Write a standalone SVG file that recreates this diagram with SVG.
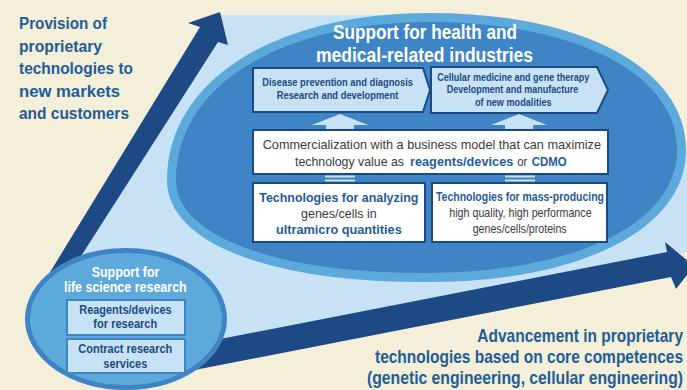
<svg xmlns="http://www.w3.org/2000/svg" width="687" height="390" viewBox="0 0 687 390">
<defs>
<style>
text{font-family:"Liberation Sans",Arial,sans-serif}
.lbl{font-size:17px;font-weight:bold;fill:#1F5C99}
.lbl2{font-size:18px;font-weight:bold;fill:#1F5C99;text-anchor:end}
.ttl{font-size:20px;font-weight:bold;fill:#FFFFFF}
.pt{font-size:10.5px;font-weight:bold;fill:#1D4A84}
.cm{font-size:13px;fill:#3A3A3A}
.bx{font-size:13px;fill:#3A3A3A}
.bb{font-weight:bold;fill:#1F5C99}
.st{font-size:14px;font-weight:bold;fill:#FFFFFF}
.sb{font-size:12.5px;font-weight:bold;fill:#1D4A84}
.pent{fill:#C6E2F4;stroke:#1D4A84;stroke-width:2}
.wbox{fill:#FFFFFF;stroke:#1D4A84;stroke-width:2}
.sbox{fill:#C6E2F4;stroke:#3F84C5;stroke-width:2}
.big{fill:#1D4A84}
.conn{fill:#C6E2F4}
</style>
</defs>
<rect width="687" height="390" fill="#F4EFD8"/>
<polygon id="fan" points="221,15 440,15 687,150 687,252 100,365 74,250" fill="#C6E2F4"/>
<g id="axes">
<polygon class="big" points="33,300 200,27 188,23 220,12 228,45 218,42 53,300"/>
<polygon class="big" points="110,360.5 667,252 665,242 694,266 676,289 671,277 110,386.5"/>
</g>
<g id="health">
<path d="M171.5,180 C171.5,84 276,17.5 430,17.5 C581,17.5 681.5,72 681.5,150 C681.5,226 579,277.5 425,277.5 C273,277.5 171.5,240 171.5,180 Z" fill="#3F84C5" stroke="#5EA9DC" stroke-width="9"/>
<text class="ttl" x="333" y="39" textLength="184" lengthAdjust="spacingAndGlyphs">Support for health and</text>
<text class="ttl" x="316" y="61.7" textLength="217" lengthAdjust="spacingAndGlyphs">medical-related industries</text>
</g>
<g id="connectors">
<polygon class="conn" points="340,114 368,125 354,125 354,131 326,131 326,125 312,125"/>
<polygon class="conn" points="519,114 547,125 533,125 533,131 505,131 505,125 491,125"/>
<rect class="conn" x="325" y="175.5" width="30" height="2"/>
<rect class="conn" x="325" y="179.5" width="30" height="2"/>
<rect class="conn" x="505" y="175.5" width="30" height="2"/>
<rect class="conn" x="505" y="179.5" width="30" height="2"/>
</g>
<g id="disease">
<polygon class="pent" points="253,68 423,68 430,90 423,112 253,112"/>
<text class="pt" x="262.3" y="86" textLength="150.7" lengthAdjust="spacingAndGlyphs">Disease prevention and diagnosis</text>
<text class="pt" x="276.7" y="99.3" textLength="121.7" lengthAdjust="spacingAndGlyphs">Research and development</text>
</g>
<g id="cellular">
<polygon class="pent" points="431,67 597,67 608,90 597,113 431,113"/>
<text class="pt" x="437.3" y="80.7" textLength="152" lengthAdjust="spacingAndGlyphs">Cellular medicine and gene therapy</text>
<text class="pt" x="446.7" y="93.3" textLength="131.6" lengthAdjust="spacingAndGlyphs">Development and manufacture</text>
<text class="pt" x="475" y="106" textLength="76.7" lengthAdjust="spacingAndGlyphs">of new modalities</text>
</g>
<g id="commercialization">
<rect class="wbox" x="253" y="130" width="355" height="44"/>
<text class="cm" x="262.7" y="149" textLength="338.3" lengthAdjust="spacingAndGlyphs">Commercialization with a business model that can maximize</text>
<text class="cm" x="295" y="166" textLength="109" lengthAdjust="spacingAndGlyphs">technology value as</text>
<text class="cm bb" x="410" y="166" textLength="103.3" lengthAdjust="spacingAndGlyphs">reagents/devices</text>
<text class="cm" x="517.3" y="166" textLength="10" lengthAdjust="spacingAndGlyphs">or</text>
<text class="cm bb" x="531.7" y="166" textLength="35" lengthAdjust="spacingAndGlyphs">CDMO</text>
</g>
<g id="analyzing">
<rect class="wbox" x="253" y="183" width="172" height="59"/>
<text class="bx bb" x="259.3" y="201.7" textLength="159" lengthAdjust="spacingAndGlyphs">Technologies for analyzing</text>
<text class="bx" x="301" y="218.3" textLength="75.7" lengthAdjust="spacingAndGlyphs">genes/cells in</text>
<text class="bx bb" x="276" y="234.3" textLength="125.7" lengthAdjust="spacingAndGlyphs">ultramicro quantities</text>
</g>
<g id="mass-producing">
<rect class="wbox" x="432" y="183" width="175" height="59"/>
<text class="bx bb" x="436" y="201" textLength="168" lengthAdjust="spacingAndGlyphs">Technologies for mass-producing</text>
<text class="bx" x="449.3" y="216.7" textLength="142.3" lengthAdjust="spacingAndGlyphs">high quality, high performance</text>
<text class="bx" x="472.7" y="232.7" textLength="94" lengthAdjust="spacingAndGlyphs">genes/cells/proteins</text>
</g>
<g id="lifescience">
<ellipse cx="126" cy="319" rx="98.5" ry="68.5" fill="#5EA9DC" stroke="#3F84C5" stroke-width="5"/>
<text class="st" x="91.7" y="277.3" textLength="67.7" lengthAdjust="spacingAndGlyphs">Support for</text>
<text class="st" x="64" y="292" textLength="122.7" lengthAdjust="spacingAndGlyphs">life science research</text>
<rect class="sbox" x="67" y="300" width="118" height="35"/>
<text class="sb" x="79.3" y="314" textLength="92.4" lengthAdjust="spacingAndGlyphs">Reagents/devices</text>
<text class="sb" x="93.3" y="328.3" textLength="64" lengthAdjust="spacingAndGlyphs">for research</text>
<rect class="sbox" x="67" y="339" width="118" height="34"/>
<text class="sb" x="78.3" y="353.3" textLength="94" lengthAdjust="spacingAndGlyphs">Contract research</text>
<text class="sb" x="103.3" y="368.3" textLength="44" lengthAdjust="spacingAndGlyphs">services</text>
</g>
<g id="provision">
<text class="lbl" x="19" y="29" textLength="88" lengthAdjust="spacingAndGlyphs">Provision of</text>
<text class="lbl" x="19" y="51.5" textLength="83" lengthAdjust="spacingAndGlyphs">proprietary</text>
<text class="lbl" x="19" y="74" textLength="114" lengthAdjust="spacingAndGlyphs">technologies to</text>
<text class="lbl" x="19" y="96.7" textLength="101" lengthAdjust="spacingAndGlyphs">new markets</text>
<text class="lbl" x="19" y="119.3" textLength="110" lengthAdjust="spacingAndGlyphs">and customers</text>
</g>
<g id="advancement">
<text class="lbl2" transform="translate(683,341.7) scale(0.865,1)" textLength="237.8" lengthAdjust="spacingAndGlyphs">Advancement in proprietary</text>
<text class="lbl2" transform="translate(683,362.7) scale(0.865,1)" textLength="356.1" lengthAdjust="spacingAndGlyphs">technologies based on core competences</text>
<text class="lbl2" transform="translate(683,384) scale(0.865,1)" textLength="365.3" lengthAdjust="spacingAndGlyphs">(genetic engineering, cellular engineering)</text>
</g>
</svg>
